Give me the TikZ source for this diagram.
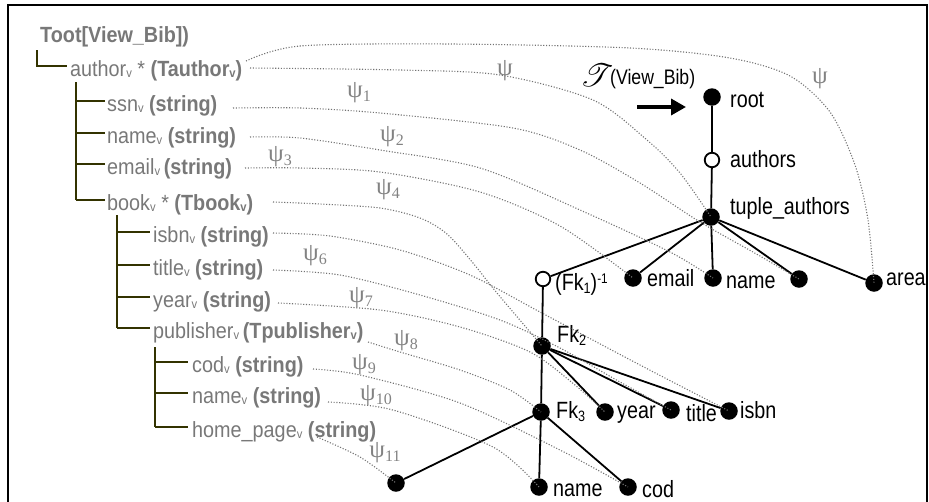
\documentclass[tikz,border=0pt]{standalone}
\usepackage{fontspec}
\usepackage{mathrsfs}
\usetikzlibrary{arrows.meta}
\setmainfont{Liberation Sans}
\newfontfamily\lfont[FakeStretch=0.9]{Liberation Sans}
\newfontfamily\rfont[FakeStretch=0.84]{Liberation Sans}
\newfontfamily\psifont{Liberation Serif}
\definecolor{txtgray}{RGB}{120,120,120}
\definecolor{treecol}{RGB}{51,51,0}
\definecolor{dotgray}{RGB}{115,115,115}
\definecolor{psigray}{RGB}{130,130,130}
\newcommand\subv{\raisebox{-1.5pt}{\fontsize{12.5}{12.5}\selectfont v}}
\newcommand\rsub[1]{\raisebox{-3pt}{\fontsize{15}{15}\selectfont #1}}
\newcommand\rsup[1]{\raisebox{7pt}{\fontsize{14}{14}\selectfont #1}}
\newcommand\psisub[1]{\raisebox{-3.5pt}{\fontsize{16}{16}\selectfont #1}}
\begin{document}
\begin{tikzpicture}[x=1pt,y=-1pt,
  lt/.style={font=\lfont\fontsize{22}{24}\selectfont, text=txtgray, inner sep=0pt, anchor=base west},
  rt/.style={font=\rfont\fontsize{23.5}{26}\selectfont, text=black, inner sep=0pt, anchor=base west},
  fnode/.style={circle, fill=black, minimum size=17.5pt, inner sep=0pt},
  onode/.style={circle, draw=black, fill=white, line width=1.8pt, minimum size=14.5pt, inner sep=0pt},
  edge/.style={line width=1.8pt, black},
  tline/.style={line width=2.5pt, treecol},
  psi/.style={dotgray, line width=1.1pt, dash pattern=on 1.1pt off 1.7pt},
  psil/.style={font=\psifont\fontsize{25}{26}\selectfont, text=psigray, inner sep=0pt}
]
\useasboundingbox (0,0) rectangle (929,501);
% frame
\draw[line width=2pt] (8,503) -- (8,5) -- (927,5) -- (927,503);

% ---------- left schema ----------
\node[lt] (toot) at (40,42) {\textbf{Toot[View\_Bib])}};
\node[lt] (author) at (70,76) {author\subv{} * \textbf{(Tauthor\subv)}};
\node[lt] (ssn) at (107,111) {ssn\subv{} \textbf{(string)}};
\node[lt] (nm) at (107,143) {name\subv{} \textbf{(string)}};
\node[lt] (em) at (107,174) {email\subv{}\,\textbf{(string)}};
\node[lt] (book) at (107,210) {book\subv{} * \textbf{(Tbook\subv)}};
\node[lt] (isbnv) at (153,242) {isbn\subv{} \textbf{(string)}};
\node[lt] (titlev) at (153,275) {title\subv{} \textbf{(string)}};
\node[lt] (yearv) at (153,307) {year\subv{} \textbf{(string)}};
\node[lt] (pub) at (153,338) {publisher\subv{}\,\textbf{(Tpublisher\subv)}};
\node[lt] (codv) at (192,372) {cod\subv{} \textbf{(string)}};
\node[lt] (namev) at (192,403) {name\subv{} \textbf{(string)}};
\node[lt] (home) at (192,437) {home\_page\subv{} \textbf{(string)}};

\draw[tline] (37,50) |- (67,66);
\draw[tline] (76,82) -- (76,200);
\foreach \y in {101,133,164,200} \draw[tline] (76,\y) -- (105,\y);
\draw[tline] (117,215) -- (117,328);
\foreach \y in {232,265,297,328} \draw[tline] (117,\y) -- (150,\y);
\draw[tline] (155,347) -- (155,427);
\foreach \y in {362,393,427} \draw[tline] (155,\y) -- (188,\y);

% ---------- right tree ----------
\node[fnode] (root) at (712,97) {};
\node[onode] (authors) at (712,160) {};
\node[fnode] (tup) at (711,217) {};
\node[onode] (fk1) at (543,279) {};
\node[fnode] (email) at (633,278) {};
\node[fnode] (name1) at (713,278) {};
\node[fnode] (un1) at (799,279) {};
\node[fnode] (area) at (874,283) {};
\node[fnode] (fk2) at (542,346) {};
\node[fnode] (fk3) at (541,412) {};
\node[fnode] (year) at (605,412) {};
\node[fnode] (title) at (671,410) {};
\node[fnode] (isbn) at (729,411) {};
\node[fnode] (un2) at (396,483) {};
\node[fnode] (name2) at (539,487) {};
\node[fnode] (cod) at (628,487) {};

\draw[edge] (root) -- (authors);
\draw[edge] (authors) -- (tup);
\foreach \c in {fk1,email,name1,un1,area} \draw[edge] (tup) -- (\c);
\draw[edge] (fk1) -- (fk2);
\draw[edge] (fk2) -- (fk3);
\foreach \c in {year,title,isbn} \draw[edge] (fk2) -- (\c);
\foreach \c in {un2,name2,cod} \draw[edge] (fk3) -- (\c);

\node[rt] (lroot) at (730,107) {root};
\node[rt] (lauthors) at (730,167) {authors};
\node[rt] (ltup) at (730,214) {tuple\_authors};
\node[rt] (lemail) at (647,286) {email};
\node[rt] (lname1) at (726,288) {name};
\node[rt] (larea) at (886,285) {area};
\node[rt] (lfk1) at (555,290) {(Fk\rsub{1})\rsup{-1}};
\node[rt] (lfk2) at (557,342) {Fk\rsub{2}};
\node[rt] (lfk3) at (556,418) {Fk\rsub{3}};
\node[rt] (lyear) at (617,418) {year};
\node[rt] (ltitle) at (686,421) {title};
\node[rt] (lisbn) at (740,418) {isbn};
\node[rt] (lname2) at (553,496) {name};
\node[rt] (lcod) at (642,497) {cod};

% T(View_Bib) and arrow
\node[inner sep=0pt] (scrT) at (597,75) {\scalebox{3.2}{$\mathscr{T}$}};
\node[rt, font=\rfont\fontsize{21}{24}\selectfont] (vb) at (610,84) {(View\_Bib)};
\coordinate (arrS) at (637,107);
\coordinate (arrE) at (686,107);
\draw[line width=3.5pt, -{Triangle[length=15pt,width=16pt]}] (arrS) -- (arrE);

% ---------- mapping curves ----------
\coordinate (sA) at (246,61);
\coordinate (sB) at (250,68);
\coordinate (s1) at (233,108);
\coordinate (s2) at (250,137);
\coordinate (s3) at (245,168);
\coordinate (s4) at (273,202);
\coordinate (s5) at (273,233);
\coordinate (s6) at (273,270);
\coordinate (s7) at (278,303);
\coordinate (s8) at (368,342);
\coordinate (s9) at (313,369);
\coordinate (s10) at (328,402);
\coordinate (s11) at (317,437);

\draw[psi] plot[smooth] coordinates {(sA) (300,46) (450,44) (630,48) (730,58) (790,76) (830,112) (855,165) (868,220) (area.center)};
\draw[psi] plot[smooth] coordinates {(sB) (400,70) (500,75) (593,100) (647,140) (680,173) (tup.center)};
\draw[psi] plot[smooth] coordinates {(s1) (300,108) (380,113) (513,128) (580,150) (640,183) (700,222) (760,256) (un1.center)};
\draw[psi] plot[smooth] coordinates {(s2) (300,138) (380,150) (480,168) (580,210) (670,252) (name1.center)};
\draw[psi] plot[smooth] coordinates {(s3) (300,168) (380,172) (480,192) (560,226) (email.center)};
\draw[psi] plot[smooth] coordinates {(s4) (320,204) (380,208) (420,218) (447,234) (473,263) (497,293) (fk2.center)};
\draw[psi] plot[smooth] coordinates {(s5) (330,236) (400,250) (470,275) (540,312) (640,365) (isbn.center)};
\draw[psi] plot[smooth] coordinates {(s6) (340,275) (420,295) (500,320) (560,348) (620,382) (title.center)};
\draw[psi] plot[smooth] coordinates {(s7) (380,310) (460,327) (530,352) (575,385) (year.center)};
\draw[psi] plot[smooth] coordinates {(s8) (400,352) (460,370) (510,390) (fk3.center)};
\draw[psi] plot[smooth] coordinates {(s9) (360,375) (460,403) (560,450) (cod.center)};
\draw[psi] plot[smooth] coordinates {(s10) (393,410) (493,447) (name2.center)};
\draw[psi] plot[smooth] coordinates {(s11) (360,457) (un2.center)};

% psi labels
\node[psil] (pB) at (505,71) {ψ};
\node[psil] (pA) at (820,79) {ψ};
\node[psil] (p1) at (359,93) {ψ\psisub{1}};
\node[psil] (p2) at (392,137) {ψ\psisub{2}};
\node[psil] (p3) at (280,157) {ψ\psisub{3}};
\node[psil] (p4) at (388,190) {ψ\psisub{4}};
\node[psil] (p6) at (315,256) {ψ\psisub{6}};
\node[psil] (p7) at (361,298) {ψ\psisub{7}};
\node[psil] (p8) at (406,341) {ψ\psisub{8}};
\node[psil] (p9) at (364,365) {ψ\psisub{9}};
\node[psil] (p10) at (376,396) {ψ\psisub{10}};
\node[psil] (p11) at (385,453) {ψ\psisub{11}};
\end{tikzpicture}
\end{document}
